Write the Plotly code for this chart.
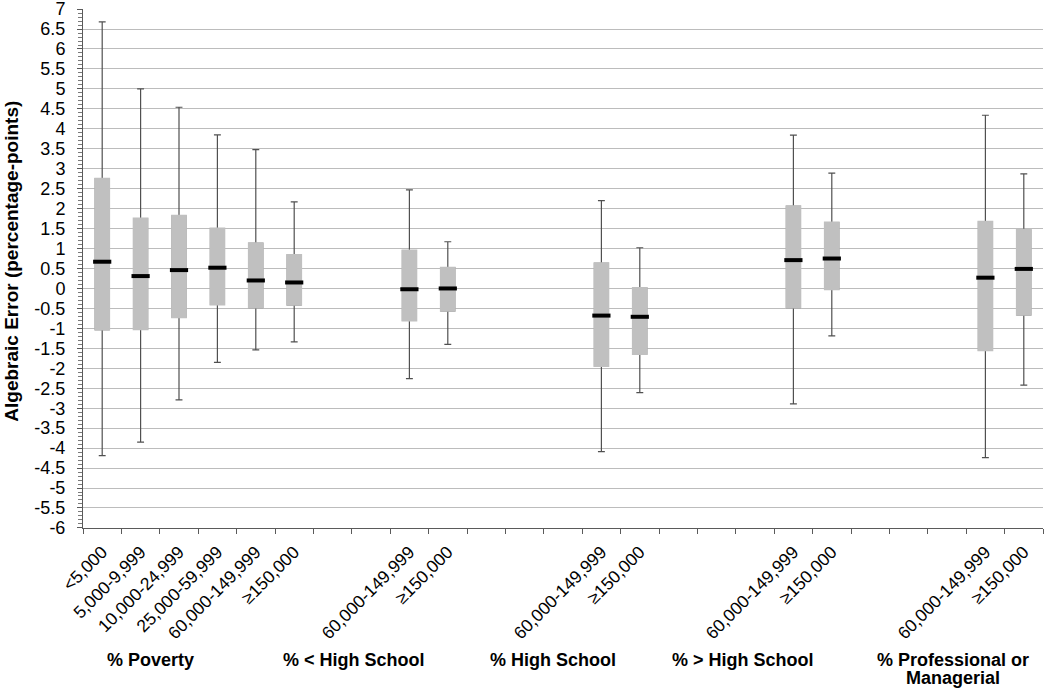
import plotly.graph_objects as go

# ---- data ----
categories = ["<5,000", "5,000-9,999", "10,000-24,999", "25,000-59,999", "60,000-149,999", "≥150,000",
              "60,000-149,999", "≥150,000",
              "60,000-149,999", "≥150,000",
              "60,000-149,999", "≥150,000",
              "60,000-149,999", "≥150,000"]
slots = [0, 1, 2, 3, 4, 5, 8, 9, 13, 14, 18, 19, 23, 24]
whisker_low = [-4.19, -3.85, -2.79, -1.85, -1.54, -1.34, -2.26, -1.40, -4.09, -2.61, -2.89, -1.19, -4.24, -2.42]
q1 = [-1.03, -1.02, -0.72, -0.40, -0.48, -0.41, -0.80, -0.56, -1.94, -1.64, -0.48, -0.02, -1.55, -0.66]
median = [0.67, 0.31, 0.46, 0.52, 0.20, 0.15, -0.02, 0.00, -0.68, -0.71, 0.71, 0.75, 0.27, 0.49]
q3 = [2.75, 1.75, 1.82, 1.50, 1.13, 0.84, 0.95, 0.52, 0.63, 0.01, 2.06, 1.65, 1.67, 1.47]
whisker_high = [6.68, 5.00, 4.54, 3.85, 3.48, 2.17, 2.47, 1.17, 2.20, 1.02, 3.84, 2.89, 4.34, 2.87]

groups = ["% Poverty", "% < High School", "% High School", "% > High School", "% Professional or"]
group_centers = [1.26, 6.55, 11.75, 16.7, 22.15]
group_second_line = "Managerial"

y_ticks = [v / 2 for v in range(-12, 15)]
y_ticktext = [("%g" % v) for v in y_ticks]

FONT = "Liberation Sans, Arial, sans-serif"
BOX_GREY = "#c0c0c0"
WHISK = "#505050"

fig = go.Figure()

# whiskers + caps
fig.add_trace(go.Box(
    x=slots, q1=q1, median=median, q3=q3,
    lowerfence=whisker_low, upperfence=whisker_high,
    width=0.36, whiskerwidth=0.5,
    fillcolor=BOX_GREY, line=dict(color=WHISK, width=1.2),
    boxpoints=False, hoverinfo="skip", showlegend=False,
))
# clean grey box on top (hides outline)
fig.add_trace(go.Box(
    x=slots, q1=q1, median=median, q3=q3,
    lowerfence=q1, upperfence=q3,
    width=0.36, whiskerwidth=0,
    fillcolor=BOX_GREY, line=dict(color=BOX_GREY, width=2),
    boxpoints=False, hoverinfo="skip", showlegend=False,
))
# medians
fig.add_trace(go.Scatter(
    x=slots, y=median, mode="markers",
    marker=dict(symbol="line-ew", size=13, line=dict(width=4, color="black")),
    hoverinfo="skip", showlegend=False,
))

for g, c in zip(groups, group_centers):
    fig.add_annotation(
        x=c, xref="x", y=-0.2543, yref="paper", yanchor="middle", xanchor="center",
        text="<b>" + g + "</b>", showarrow=False,
        font=dict(family=FONT, size=18, color="black"),
    )
fig.add_annotation(
    x=group_centers[-1], xref="x", y=-0.289, yref="paper", yanchor="middle", xanchor="center",
    text="<b>" + group_second_line + "</b>", showarrow=False,
    font=dict(family=FONT, size=18, color="black"),
)

fig.add_annotation(
    x=-0.074, xref="paper", y=0.515, yref="paper", xanchor="center", yanchor="middle",
    text="<b>Algebraic Error (percentage-points)</b>", textangle=-90,
    showarrow=False, font=dict(family=FONT, size=19, color="black"),
)

fig.update_layout(
    width=1050, height=691,
    margin=dict(l=83, r=7, t=9, b=163),
    paper_bgcolor="white", plot_bgcolor="white",
    boxmode="overlay",
    font=dict(family=FONT, color="black"),
)
fig.update_xaxes(
    range=[-0.5, 24.5], automargin=False,
    tickmode="array", tickvals=slots, ticktext=categories,
    tickangle=-45, ticks="", tickfont=dict(family=FONT, size=17.5, color="black"),
    ticklabelstandoff=6, ticklabeloverflow="allow",
    showgrid=False, zeroline=False,
    showline=True, linecolor="#5a5a5a", linewidth=1,
    minor=dict(tickmode="linear", tick0=0.5, dtick=1, ticks="outside", ticklen=5,
               tickcolor="#5a5a5a", showgrid=False),
)
fig.update_yaxes(
    range=[-6.002, 7.002], automargin=False,
    tickmode="array", tickvals=y_ticks, ticktext=y_ticktext,
    ticks="outside", ticklen=5, tickcolor="#5a5a5a",
    tickfont=dict(family=FONT, size=18, color="black"),
    ticklabelstandoff=8, ticklabeloverflow="allow",
    showgrid=True, gridcolor="#bcbcbc", gridwidth=1.2,
    zeroline=False,
    showline=True, linecolor="#5a5a5a", linewidth=1,
    minor=dict(tickmode="linear", tick0=0, dtick=0.1, ticks="outside", ticklen=4,
               tickcolor="#7a7a7a", showgrid=False),
)

# place the figure at the page's top-left corner (no default body margin)
fig.write_html("out.html", config={"displayModeBar": False},
               post_script="document.body.style.margin='0';")
